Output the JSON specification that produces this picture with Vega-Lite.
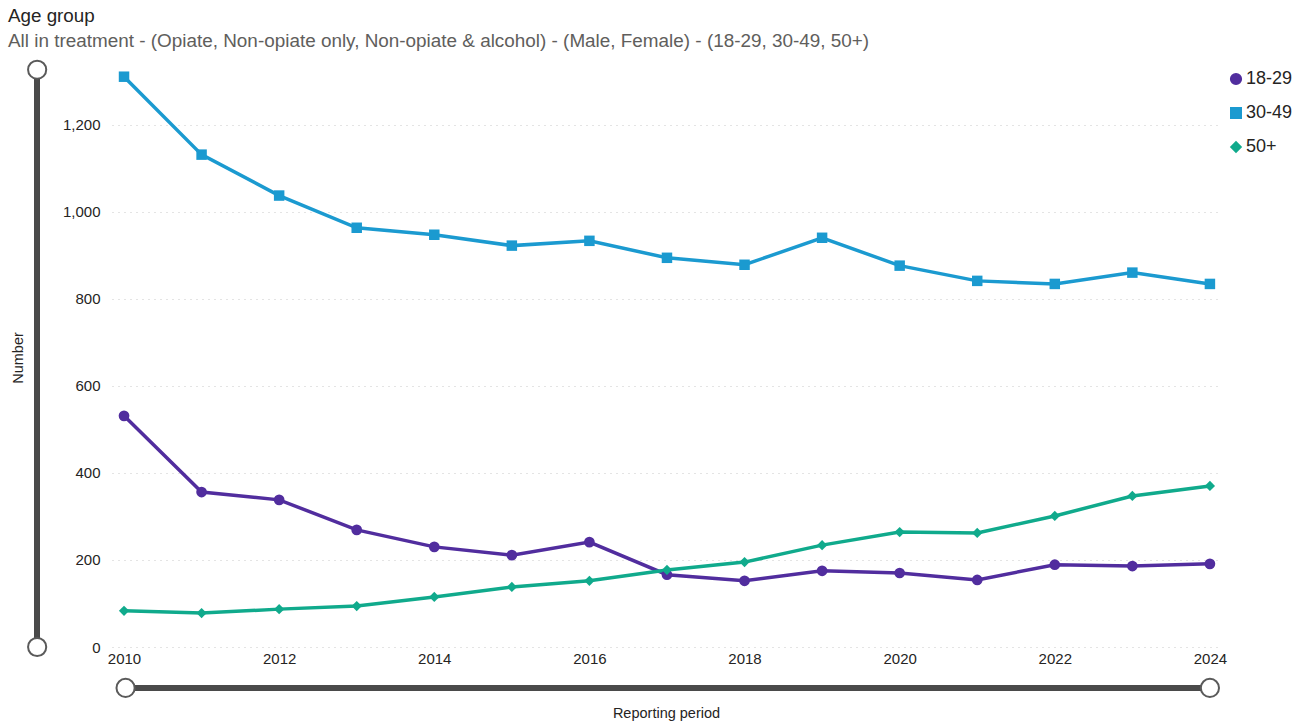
{
  "$schema": "https://vega.github.io/schema/vega-lite/v6.json",
  "width": 1108,
  "height": 579,
  "autosize": "none",
  "padding": {"left": 112, "top": 68, "right": 85, "bottom": 78},
  "background": "white",
  "title": {
    "text": "Age group",
    "subtitle": "All in treatment - (Opiate, Non-opiate only, Non-opiate & alcohol) - (Male, Female) - (18-29, 30-49, 50+)",
    "anchor": "start",
    "frame": "group",
    "dx": -104,
    "offset": 6,
    "font": "Liberation Sans",
    "fontSize": 18.8,
    "fontWeight": "normal",
    "color": "#252423",
    "subtitleFont": "Liberation Sans",
    "subtitleFontSize": 18.9,
    "subtitleColor": "#605E5C",
    "subtitlePadding": 6
  },
  "config": {
    "view": {"stroke": null},
    "font": "Liberation Sans"
  },
  "data": {
    "values": [
      {"year": 2010, "age": "18-29", "n": 531},
      {"year": 2011, "age": "18-29", "n": 356},
      {"year": 2012, "age": "18-29", "n": 338},
      {"year": 2013, "age": "18-29", "n": 269},
      {"year": 2014, "age": "18-29", "n": 230},
      {"year": 2015, "age": "18-29", "n": 211},
      {"year": 2016, "age": "18-29", "n": 241},
      {"year": 2017, "age": "18-29", "n": 166},
      {"year": 2018, "age": "18-29", "n": 152},
      {"year": 2019, "age": "18-29", "n": 175},
      {"year": 2020, "age": "18-29", "n": 170},
      {"year": 2021, "age": "18-29", "n": 154},
      {"year": 2022, "age": "18-29", "n": 189},
      {"year": 2023, "age": "18-29", "n": 186},
      {"year": 2024, "age": "18-29", "n": 191},
      {"year": 2010, "age": "30-49", "n": 1310},
      {"year": 2011, "age": "30-49", "n": 1131},
      {"year": 2012, "age": "30-49", "n": 1037},
      {"year": 2013, "age": "30-49", "n": 963},
      {"year": 2014, "age": "30-49", "n": 947},
      {"year": 2015, "age": "30-49", "n": 922},
      {"year": 2016, "age": "30-49", "n": 933},
      {"year": 2017, "age": "30-49", "n": 894},
      {"year": 2018, "age": "30-49", "n": 878},
      {"year": 2019, "age": "30-49", "n": 940},
      {"year": 2020, "age": "30-49", "n": 876},
      {"year": 2021, "age": "30-49", "n": 841},
      {"year": 2022, "age": "30-49", "n": 834},
      {"year": 2023, "age": "30-49", "n": 860},
      {"year": 2024, "age": "30-49", "n": 834},
      {"year": 2010, "age": "50+", "n": 83},
      {"year": 2011, "age": "50+", "n": 78},
      {"year": 2012, "age": "50+", "n": 87},
      {"year": 2013, "age": "50+", "n": 94},
      {"year": 2014, "age": "50+", "n": 115},
      {"year": 2015, "age": "50+", "n": 138},
      {"year": 2016, "age": "50+", "n": 152},
      {"year": 2017, "age": "50+", "n": 177},
      {"year": 2018, "age": "50+", "n": 195},
      {"year": 2019, "age": "50+", "n": 234},
      {"year": 2020, "age": "50+", "n": 264},
      {"year": 2021, "age": "50+", "n": 262},
      {"year": 2022, "age": "50+", "n": 301},
      {"year": 2023, "age": "50+", "n": 347},
      {"year": 2024, "age": "50+", "n": 370}
    ]
  },
  "encoding": {
    "x": {
      "field": "year",
      "type": "quantitative",
      "scale": {"domain": [2009.845, 2024.13], "nice": false, "zero": false},
      "axis": {
        "title": "Reporting period",
        "titleFontSize": 14.5,
        "titleFontWeight": "normal",
        "titleColor": "#252423",
        "titlePadding": 40,
        "values": [2010, 2012, 2014, 2016, 2018, 2020, 2022, 2024],
        "format": "d",
        "labelFontSize": 15,
        "labelColor": "#252423",
        "labelPadding": 4,
        "domain": false,
        "ticks": false,
        "grid": false
      }
    },
    "y": {
      "field": "n",
      "type": "quantitative",
      "scale": {"domain": [0, 1330], "nice": false},
      "axis": {
        "title": "Number",
        "titleFontSize": 14.5,
        "titleFontWeight": "normal",
        "titleColor": "#252423",
        "titlePadding": 37,
        "values": [0, 200, 400, 600, 800, 1000, 1200],
        "format": ",d",
        "labelFontSize": 15,
        "labelColor": "#252423",
        "labelPadding": 12,
        "domain": false,
        "ticks": false,
        "grid": true,
        "gridColor": "#C8C8C8",
        "gridDash": [1, 5],
        "gridWidth": 1
      }
    }
  },
  "layer": [
    {
      "mark": {"type": "rule", "color": "#4A4A4A", "strokeWidth": 5, "clip": false},
      "encoding": {
        "x": {"datum": 2008.88},
        "y": {"datum": 0},
        "y2": {"datum": 1326}
      }
    },
    {
      "mark": {"type": "rule", "color": "#4A4A4A", "strokeWidth": 5, "clip": false},
      "encoding": {
        "x": {"datum": 2010.02},
        "x2": {"datum": 2024},
        "y": {"datum": -94}
      }
    },
    {
      "data": {"values": [{"px": 2008.88, "py": 0}, {"px": 2008.88, "py": 1326}, {"px": 2010.02, "py": -94}, {"px": 2024, "py": -94}]},
      "mark": {"type": "point", "shape": "circle", "filled": true, "fill": "white", "stroke": "#5A5A5A", "strokeWidth": 2, "size": 330, "opacity": 1, "clip": false},
      "encoding": {
        "x": {"field": "px", "type": "quantitative"},
        "y": {"field": "py", "type": "quantitative"}
      }
    },
    {
      "mark": {"type": "line", "strokeWidth": 3.5},
      "encoding": {
        "color": {
          "field": "age",
          "type": "nominal",
          "scale": {"domain": ["18-29", "30-49", "50+"], "range": ["#512D9E", "#1B9AD0", "#10AA8C"]}
        }
      }
    },
    {
      "mark": {"type": "point", "filled": true, "opacity": 1},
      "encoding": {
        "color": {
          "field": "age",
          "type": "nominal",
          "scale": {"domain": ["18-29", "30-49", "50+"], "range": ["#512D9E", "#1B9AD0", "#10AA8C"]},
          "legend": {
            "title": null,
            "orient": "none",
            "legendX": 1115,
            "legendY": 2,
            "labelFontSize": 18,
            "labelColor": "#252423",
            "symbolSize": 160,
            "symbolOpacity": 1,
            "rowPadding": 16,
            "labelOffset": 1
          }
        },
        "shape": {
          "field": "age",
          "type": "nominal",
          "scale": {"domain": ["18-29", "30-49", "50+"], "range": ["circle", "square", "diamond"]},
          "legend": {
            "title": null,
            "orient": "none",
            "legendX": 1115,
            "legendY": 2,
            "labelFontSize": 18,
            "labelColor": "#252423",
            "symbolSize": 160,
            "symbolOpacity": 1,
            "rowPadding": 16,
            "labelOffset": 1
          }
        },
        "size": {
          "field": "age",
          "type": "nominal",
          "scale": {"domain": ["18-29", "30-49", "50+"], "range": [115, 105, 75]},
          "legend": null
        }
      }
    }
  ]
}
